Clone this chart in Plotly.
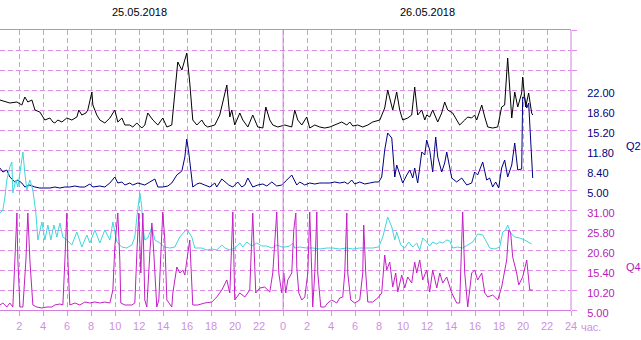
import plotly.graph_objects as go

# ---- time axis: hours counted from 25.05.2018 00:00 ----
HOUR_TICKS = [2, 4, 6, 8, 10, 12, 14, 16, 18, 20, 22, 24,
              26, 28, 30, 32, 34, 36, 38, 40, 42, 44, 46, 48]
HOUR_LABELS = ["2", "4", "6", "8", "10", "12", "14", "16", "18", "20", "22", "0",
               "2", "4", "6", "8", "10", "12", "14", "16", "18", "20", "22", "24"]
DAY_LABELS = ["25.05.2018", "26.05.2018"]
DAY_CENTERS = [12, 36]

# ---- Q1 (black, shares the Q2 scale) ----
Q1_T = [0.39, 1.22, 1.81, 2.22, 2.47, 2.72, 3.06, 3.31, 3.72, 4.14,
        4.56, 4.81, 4.97, 5.22, 5.56, 5.97, 6.39, 6.81, 6.97, 7.22,
        7.56, 7.72, 8.06, 8.14, 8.47, 8.72, 9.14, 9.56, 9.97, 10.22,
        10.56, 10.81, 11.22, 11.47, 11.81, 12.22, 12.47, 12.72, 13.14, 13.56,
        13.97, 14.31, 14.72, 14.97, 15.22, 15.56, 15.81, 15.97, 16.22, 16.47,
        16.81, 17.22, 17.47, 17.72, 18.31, 18.72, 19.31, 19.56, 19.72, 19.97,
        20.39, 20.64, 21.06, 21.47, 21.89, 22.31, 22.56, 22.89, 23.14, 23.56,
        24.14, 24.72, 24.97, 25.22, 25.56, 25.97, 26.22, 26.64, 27.06, 27.47,
        27.89, 28.31, 28.89, 29.31, 29.56, 29.81, 30.22, 30.64, 31.06, 31.47,
        32.06, 32.47, 32.72, 33.14, 33.47, 33.72, 33.97, 34.39, 34.72, 34.97,
        35.22, 35.56, 35.81, 35.97, 36.22, 36.47, 36.89, 37.22, 37.47, 37.72,
        38.14, 38.47, 38.72, 39.14, 39.39, 39.72, 39.97, 40.14, 40.56, 40.81,
        41.06, 41.47, 41.89, 42.22, 42.47, 42.72, 43.06, 43.31, 43.56, 43.89,
        43.97, 44.22, 44.47, 44.72, 44.81]
Q1_V = [20.3, 19.79, 19.96, 19.45, 20.81, 19.96, 20.3, 18.6, 18.26, 16.9,
        17.24, 16.56, 16.39, 16.9, 16.56, 17.24, 16.9, 17.41, 18.6, 17.75,
        18.09, 18.6, 21.66, 19.45, 17.75, 16.9, 16.39, 17.24, 18.6, 16.56,
        17.24, 16.05, 16.05, 15.71, 16.39, 15.54, 16.05, 18.09, 16.9, 16.05,
        17.24, 15.71, 16.05, 21.15, 26.76, 25.4, 27.1, 28.29, 23.19, 16.9,
        16.05, 16.9, 16.05, 15.71, 16.05, 17.75, 22.85, 17.41, 18.6, 16.05,
        18.09, 16.9, 15.71, 17.75, 15.71, 15.54, 19.11, 16.9, 16.05, 15.71,
        16.05, 15.71, 18.6, 16.9, 16.05, 17.41, 15.54, 16.05, 15.71, 15.54,
        15.71, 16.05, 16.56, 16.05, 16.56, 15.88, 16.05, 15.71, 16.05, 16.56,
        16.9, 18.94, 22.0, 18.6, 21.66, 18.6, 16.9, 17.24, 17.75, 22.51,
        17.75, 18.6, 16.9, 17.75, 17.41, 18.6, 16.56, 18.09, 19.96, 18.6,
        18.09, 16.9, 16.05, 16.9, 17.41, 17.24, 17.75, 16.9, 19.45, 17.41,
        15.71, 15.54, 15.71, 19.11, 19.45, 27.44, 17.24, 21.66, 19.11, 21.49,
        24.21, 19.11, 21.49, 18.09, 17.75]

# ---- Q2 (navy) ----
Q2_T = [0.39, 0.64, 0.97, 1.22, 1.64, 1.89, 2.22, 2.47, 2.89, 3.31,
        3.72, 4.14, 4.56, 4.97, 5.39, 5.81, 6.22, 6.64, 7.06, 7.47,
        7.89, 8.14, 8.72, 9.14, 9.56, 9.97, 10.22, 10.56, 10.81, 11.22,
        11.47, 11.89, 12.47, 12.89, 13.31, 13.56, 13.97, 14.39, 14.72, 15.14,
        15.39, 15.56, 15.81, 15.97, 16.14, 16.47, 16.81, 17.06, 17.47, 17.89,
        18.31, 18.47, 18.89, 19.22, 19.47, 19.81, 20.22, 20.56, 20.81, 21.06,
        21.47, 21.89, 22.31, 22.64, 23.06, 23.47, 23.89, 24.31, 24.72, 25.14,
        25.39, 25.81, 26.22, 26.64, 27.06, 27.47, 27.89, 28.31, 28.72, 29.14,
        29.39, 29.72, 29.97, 30.39, 30.81, 31.22, 31.64, 31.97, 32.22, 32.47,
        32.72, 33.06, 33.31, 33.47, 33.64, 33.97, 34.31, 34.56, 34.81, 34.97,
        35.22, 35.39, 35.56, 35.81, 35.97, 36.22, 36.47, 36.72, 36.89, 37.22,
        37.47, 37.64, 38.06, 38.47, 38.89, 39.31, 39.72, 39.97, 40.22, 40.64,
        40.97, 41.22, 41.47, 41.72, 41.97, 42.22, 42.47, 42.72, 43.06, 43.31,
        43.56, 43.89, 43.97, 44.14, 44.31, 44.47, 44.72, 44.81]
Q2_V = [8.74, 8.06, 8.4, 7.21, 6.36, 6.7, 6.19, 5.51, 5.85, 5.51,
        5.34, 5.34, 5.34, 5.51, 5.34, 5.51, 5.51, 5.68, 5.51, 5.51,
        6.02, 5.51, 5.68, 5.51, 6.19, 7.21, 6.19, 6.36, 5.85, 6.19,
        5.85, 6.19, 5.85, 6.36, 6.87, 5.51, 5.51, 5.68, 6.19, 7.55,
        8.06, 8.23, 10.61, 13.67, 11.29, 5.51, 6.02, 6.19, 5.85, 5.51,
        6.19, 5.51, 6.87, 6.36, 5.85, 5.51, 6.36, 5.51, 5.85, 7.04,
        5.51, 5.85, 6.02, 5.68, 6.36, 5.68, 5.85, 6.7, 7.55, 5.85,
        6.36, 5.85, 6.19, 6.02, 6.19, 6.19, 6.19, 6.36, 6.19, 6.36,
        6.02, 6.7, 6.02, 6.36, 6.02, 6.19, 6.36, 6.36, 7.21, 11.8,
        14.69, 13.84, 7.21, 9.25, 8.06, 6.19, 7.55, 8.4, 7.04, 8.74,
        6.19, 8.91, 11.46, 10.95, 13.5, 11.8, 8.06, 14.01, 10.61, 8.06,
        9.59, 11.46, 7.04, 6.36, 7.04, 5.85, 6.19, 8.06, 7.55, 9.76,
        6.7, 7.04, 5.51, 6.36, 5.34, 8.74, 10.1, 7.21, 9.25, 12.99,
        8.4, 8.57, 20.81, 20.64, 18.94, 19.79, 8.91, 7.04]

# ---- Q3 (cyan, shares the Q4 scale) ----
Q3_T = [0.39, 0.64, 0.81, 0.97, 1.22, 1.39, 1.47, 1.72, 1.89, 2.14,
        2.31, 2.47, 2.64, 2.89, 3.14, 3.39, 3.56, 3.89, 4.14, 4.39,
        4.64, 4.89, 5.14, 5.39, 5.64, 5.97, 6.39, 6.81, 7.22, 7.64,
        7.89, 8.31, 8.72, 9.14, 9.56, 9.81, 10.14, 10.56, 10.97, 11.39,
        11.64, 11.81, 12.06, 12.22, 12.31, 12.47, 12.72, 13.06, 13.31, 13.72,
        14.14, 14.56, 14.97, 15.39, 15.97, 16.39, 16.64, 17.22, 17.64, 18.06,
        18.47, 18.89, 19.14, 19.56, 19.97, 20.39, 20.64, 20.97, 21.39, 21.81,
        22.22, 22.64, 23.06, 23.47, 23.89, 24.14, 24.56, 24.81, 24.97, 25.39,
        25.97, 26.47, 27.06, 27.64, 28.14, 28.72, 29.31, 29.81, 30.39, 30.97,
        31.47, 31.97, 32.31, 32.56, 32.72, 33.06, 33.31, 33.47, 33.81, 34.14,
        34.47, 34.81, 35.14, 35.39, 35.64, 35.97, 36.22, 36.47, 36.81, 37.06,
        37.31, 37.64, 37.89, 38.14, 38.56, 38.97, 39.39, 39.81, 40.22, 40.64,
        40.97, 41.22, 41.64, 42.06, 42.31, 42.56, 42.72, 42.97, 43.31, 43.72,
        44.14, 44.39, 44.72]
Q3_V = [30.22, 31.0, 34.38, 38.8, 42.18, 43.48, 35.42, 38.8, 36.98, 42.18,
        46.08, 40.62, 36.2, 38.8, 36.2, 30.22, 23.2, 27.88, 23.2, 27.1,
        23.2, 27.1, 23.98, 27.62, 23.98, 23.2, 21.9, 25.28, 21.38, 24.5,
        22.42, 25.8, 22.42, 25.8, 23.2, 27.88, 22.68, 21.38, 21.12, 21.9,
        23.98, 29.18, 35.42, 31.78, 26.58, 23.2, 23.72, 26.58, 23.2, 22.42,
        21.38, 21.12, 21.38, 23.98, 26.06, 23.98, 21.12, 21.12, 20.6, 20.86,
        20.6, 21.9, 21.12, 20.6, 21.12, 22.42, 21.38, 22.68, 21.64, 22.42,
        21.64, 21.64, 21.12, 21.9, 21.38, 21.38, 21.64, 22.42, 21.12, 21.38,
        21.12, 21.12, 20.86, 21.12, 21.12, 20.86, 21.12, 20.86, 21.12, 21.12,
        21.12, 21.38, 23.98, 27.1, 29.18, 26.58, 23.2, 25.28, 21.9, 21.12,
        22.68, 21.38, 22.42, 20.6, 23.72, 22.68, 21.64, 22.68, 22.16, 22.68,
        22.42, 23.2, 22.94, 21.12, 21.38, 21.12, 21.9, 22.68, 24.76, 24.5,
        22.68, 21.12, 20.86, 21.38, 25.28, 25.8, 27.1, 25.02, 23.98, 23.72,
        23.2, 22.68, 22.16]

# ---- Q4 (magenta) ----
Q4_T = [0.39, 0.64, 0.97, 1.22, 1.47, 1.64, 1.81, 1.89, 2.06, 2.31,
        2.56, 2.72, 2.89, 3.14, 3.47, 3.89, 4.31, 4.72, 4.97, 5.39,
        5.64, 5.81, 5.97, 6.06, 6.22, 6.64, 7.06, 7.47, 7.89, 8.31,
        8.72, 9.14, 9.56, 9.81, 9.97, 10.22, 10.39, 10.47, 10.81, 11.39,
        11.64, 11.81, 11.97, 12.14, 12.31, 12.47, 12.64, 12.89, 13.06, 13.22,
        13.47, 13.64, 13.89, 13.97, 14.14, 14.31, 14.72, 14.81, 15.14, 15.39,
        15.64, 15.81, 16.06, 16.22, 16.47, 16.89, 17.47, 18.06, 18.47, 18.89,
        19.31, 19.56, 19.81, 19.97, 20.39, 20.81, 21.22, 21.47, 21.72, 22.06,
        22.47, 22.89, 23.14, 23.47, 23.64, 23.89, 24.06, 24.22, 24.39, 24.72,
        24.89, 25.06, 25.14, 25.31, 25.56, 25.81, 26.06, 26.22, 26.39, 26.47,
        26.64, 26.81, 26.89, 27.14, 27.47, 27.72, 28.06, 28.47, 28.72, 28.97,
        29.14, 29.31, 29.39, 29.64, 29.97, 30.39, 30.64, 30.72, 30.89, 31.06,
        31.47, 31.89, 32.22, 32.47, 32.64, 32.89, 33.14, 33.39, 33.56, 33.89,
        34.14, 34.39, 34.72, 34.97, 35.14, 35.39, 35.64, 35.97, 36.22, 36.47,
        36.81, 37.06, 37.31, 37.64, 38.06, 38.47, 38.72, 38.97, 39.14, 39.39,
        39.72, 39.97, 40.22, 40.56, 40.81, 41.06, 41.47, 41.89, 42.22, 42.47,
        42.64, 42.81, 42.97, 43.14, 43.47, 43.64, 43.97, 44.31, 44.56, 44.81]
Q4_V = [6.3, 6.82, 5.78, 6.82, 5.78, 18.0, 30.22, 18.0, 5.78, 5.78,
        18.0, 30.22, 18.0, 6.3, 5.78, 5.52, 5.78, 5.78, 6.3, 6.56,
        6.3, 18.0, 30.22, 18.0, 6.3, 6.82, 6.3, 7.08, 6.82, 7.08,
        6.82, 7.08, 6.82, 10.2, 21.38, 30.22, 18.0, 6.82, 6.3, 6.3,
        6.82, 19.82, 30.22, 14.62, 30.22, 7.6, 5.78, 19.82, 27.62, 19.82,
        5.78, 7.6, 23.2, 30.48, 23.2, 7.6, 5.78, 9.42, 16.18, 14.62,
        15.4, 14.1, 19.82, 23.2, 6.3, 6.3, 6.82, 7.08, 8.38, 10.2,
        12.8, 9.42, 30.48, 7.6, 9.42, 8.38, 10.2, 30.22, 9.42, 10.72,
        10.98, 9.68, 14.62, 30.48, 14.62, 9.42, 14.62, 9.42, 12.8, 14.62,
        25.8, 30.22, 16.18, 9.42, 7.6, 8.38, 14.62, 30.48, 14.62, 5.78,
        14.62, 30.48, 14.62, 5.78, 5.78, 6.82, 7.6, 6.82, 8.12, 8.38,
        14.62, 30.22, 14.62, 7.6, 6.82, 7.6, 14.62, 27.1, 14.62, 7.08,
        7.08, 8.12, 9.42, 19.3, 15.4, 17.48, 10.98, 14.62, 9.68, 14.1,
        10.72, 13.58, 12.02, 17.48, 14.62, 18.0, 12.8, 15.4, 9.68, 15.4,
        10.72, 14.62, 12.02, 13.58, 9.42, 6.82, 6.82, 30.48, 14.62, 5.78,
        14.62, 15.4, 12.8, 14.62, 9.42, 8.38, 8.9, 7.6, 10.98, 14.62,
        18.0, 25.8, 25.02, 18.78, 14.62, 11.5, 13.58, 18.0, 10.2, 10.2]

# ---- right-hand scales ----
Q2_GRID = [-15.4, -12.0, -8.6, -5.2, -1.8, 1.6, 5.0, 8.4, 11.8, 15.2,
           18.6, 22.0, 25.4, 28.8, 32.2]
Q2_TEXT = ["", "", "", "", "", "", "5.00", "8.40", "11.80", "15.20",
           "18.60", "22.00", "", "", ""]
Q4_TICKS = [5.0, 10.2, 15.4, 20.6, 25.8, 31.0]
Q4_TEXT = ["5.00", "10.20", "15.40", "20.60", "25.80", "31.00"]

FONT = "Liberation Sans, Arial, sans-serif"
GRID = "#dd8ee6"
FRAME = "#d27fe0"
TICK_TXT = "#cf8fe0"
NAVY = "#000080"
MAGENTA = "#c21fc4"
LABEL_MAG = "#b41cb8"
CYAN = "#3fd6dc"

fig = go.Figure()
fig.add_trace(go.Scatter(x=Q1_T, y=Q1_V, mode="lines", name="Q1",
                         line=dict(color="#000000", width=1), yaxis="y"))
fig.add_trace(go.Scatter(x=Q3_T, y=Q3_V, mode="lines", name="Q3",
                         line=dict(color=CYAN, width=1), yaxis="y2"))
fig.add_trace(go.Scatter(x=Q4_T, y=Q4_V, mode="lines", name="Q4",
                         line=dict(color=MAGENTA, width=1), yaxis="y2"))
fig.add_trace(go.Scatter(x=Q2_T, y=Q2_V, mode="lines", name="Q2",
                         line=dict(color=NAVY, width=1), yaxis="y"))

fig.update_layout(
    width=641, height=340,
    margin=dict(l=0, r=70, t=30, b=30),
    paper_bgcolor="white", plot_bgcolor="white",
    showlegend=False, hovermode=False,
    font=dict(family=FONT, size=11),
    xaxis=dict(
        range=[0.4, 48], tickmode="array", tickvals=HOUR_TICKS, ticktext=HOUR_LABELS,
        showgrid=True, gridcolor=GRID, gridwidth=1, griddash="5px,3px",
        zeroline=False, showline=True, linecolor=FRAME, linewidth=1, mirror=True,
        ticks="outside", ticklen=5, tickcolor=GRID,
        tickfont=dict(color=TICK_TXT, size=11, family=FONT),
        ticklabelstandoff=1,
    ),
    yaxis=dict(
        range=[-15.4, 32.2], side="right", tickmode="array",
        tickvals=Q2_GRID, ticktext=Q2_TEXT,
        showgrid=True, gridcolor=GRID, gridwidth=1, griddash="5px,3px",
        zeroline=False, showline=False,
        ticks="outside", ticklen=5, tickcolor=GRID,
        tickfont=dict(color=NAVY, size=11, family=FONT),
        ticklabelstandoff=8, ticklabelshift=3,
    ),
    yaxis2=dict(
        range=[5, 77.8], side="right", overlaying="y", tickmode="array",
        tickvals=Q4_TICKS, ticktext=Q4_TEXT,
        showgrid=False, zeroline=False, showline=False,
        ticks="outside", ticklen=5, tickcolor=GRID,
        tickfont=dict(color=LABEL_MAG, size=11, family=FONT),
        ticklabelstandoff=8, ticklabelshift=3,
    ),
)

# right frame and the solid midnight divider
fig.add_shape(type="line", xref="paper", yref="paper", x0=1, x1=1, y0=0, y1=1,
              line=dict(color=FRAME, width=1))
fig.add_shape(type="line", xref="x", yref="paper", x0=24, x1=24, y0=0, y1=1,
              line=dict(color=FRAME, width=1))

for label, center in zip(DAY_LABELS, DAY_CENTERS):
    fig.add_annotation(x=center, y=1.064, xref="x", yref="paper",
                       xanchor="center", yanchor="middle",
                       text=label, showarrow=False,
                       font=dict(color="#000000", size=11, family=FONT))

fig.add_annotation(x=1.092, y=0.584, xref="paper", yref="paper",
                   xanchor="left", yanchor="middle",
                   text="Q2", showarrow=False, font=dict(color=NAVY, size=11, family=FONT))
fig.add_annotation(x=1.092, y=0.154, xref="paper", yref="paper",
                   xanchor="left", yanchor="middle",
                   text="Q4", showarrow=False, font=dict(color=LABEL_MAG, size=11, family=FONT))
fig.add_annotation(x=1.014, y=-0.06, xref="paper", yref="paper",
                   xanchor="left", yanchor="middle",
                   text="час.", showarrow=False, font=dict(color=TICK_TXT, size=11, family=FONT))

fig.write_html("out.html")
